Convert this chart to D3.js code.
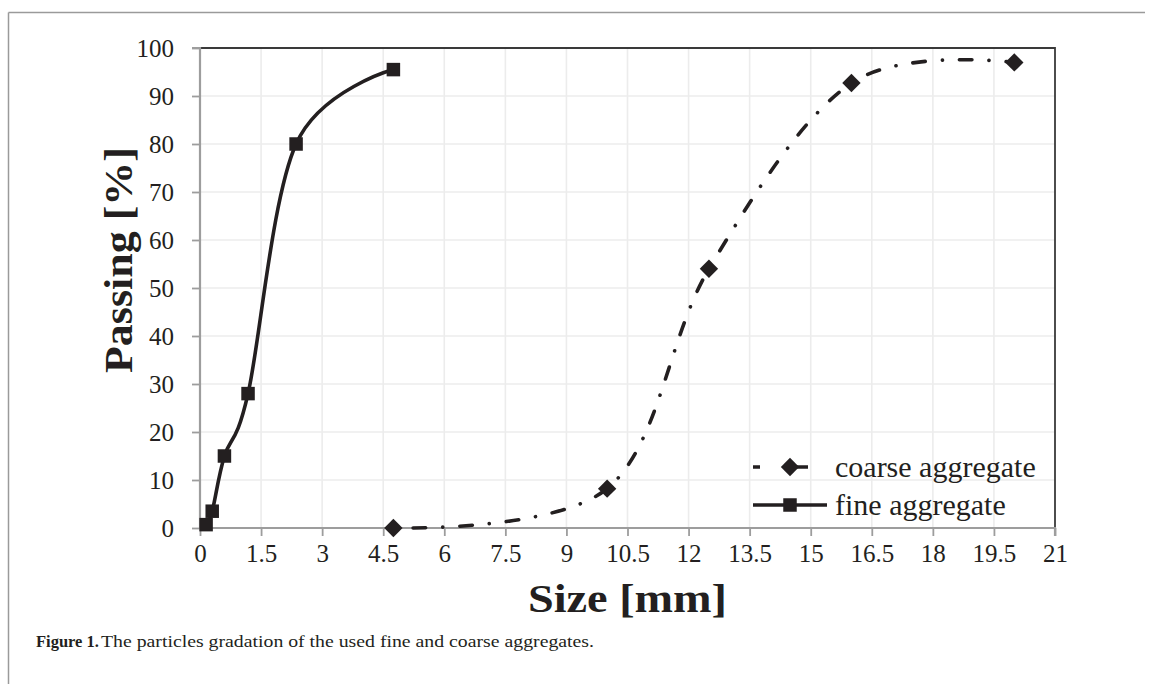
<!DOCTYPE html>
<html>
<head>
<meta charset="utf-8">
<script src="https://cdn.jsdelivr.net/npm/d3@7"></script>
<style>
  html, body { margin: 0; padding: 0; background: #fff; }
  svg { display: block; }
</style>
</head>
<body>
<svg id="chart" width="1153" height="684"></svg>
<script>
// Sieve analysis: particle size [mm] vs. cumulative passing [%]
const fineSize = [0.15, 0.3, 0.6, 1.18, 2.36, 4.75];
const finePassing = [0.7, 3.5, 15, 28, 80, 95.5];
const coarseSize = [4.75, 10, 12.5, 16, 20];
const coarsePassing = [0, 8.2, 54, 92.7, 97];
const xTicks = [0, 1.5, 3, 4.5, 6, 7.5, 9, 10.5, 12, 13.5, 15, 16.5, 18, 19.5, 21];
const yTicks = [0, 10, 20, 30, 40, 50, 60, 70, 80, 90, 100];
const seriesNames = ["coarse aggregate", "fine aggregate"];

const svg = d3.select("#chart");
const ink = "#231f20";
const serif = "'Liberation Serif', 'Times New Roman', serif";

const plot = { left: 200, right: 1055, top: 48, bottom: 528 };
const x = d3.scaleLinear().domain([0, 21]).range([plot.left, plot.right]);
const y = d3.scaleLinear().domain([0, 100]).range([plot.bottom, plot.top]);

// Figure frame (top and left rules)
svg.append("line").attr("x1", 8.5).attr("x2", 1145).attr("y1", 12.5).attr("y2", 12.5)
  .attr("stroke", "#9a9a9a").attr("stroke-width", 1.5);
svg.append("line").attr("x1", 8.5).attr("x2", 8.5).attr("y1", 12.5).attr("y2", 684)
  .attr("stroke", "#9a9a9a").attr("stroke-width", 1.5);

// Grid
const grid = svg.append("g");
grid.selectAll("line.v").data(xTicks.filter(t => t > 0 && t < 21)).join("line")
  .attr("x1", d => x(d)).attr("x2", d => x(d))
  .attr("y1", plot.top).attr("y2", plot.bottom)
  .attr("stroke", "#ececec").attr("stroke-width", 1.6);
grid.selectAll("line.h").data(yTicks.filter(t => t > 0 && t < 100)).join("line")
  .attr("x1", plot.left).attr("x2", plot.right)
  .attr("y1", d => y(d)).attr("y2", d => y(d))
  .attr("stroke", "#ececec").attr("stroke-width", 1.6);

// Top and right plot border
svg.append("path")
  .attr("d", `M${plot.left},${plot.top}H${plot.right}V${plot.bottom}`)
  .attr("fill", "none").attr("stroke", "#3a3a3a").attr("stroke-width", 1.8);

// Axes
const yAxis = d3.axisLeft(y).tickValues(yTicks).tickSize(8).tickPadding(18).tickFormat(d3.format("d"));
const xAxis = d3.axisBottom(x).tickValues(xTicks).tickSize(8).tickPadding(8).tickFormat(d => String(d));

const gy = svg.append("g").attr("transform", `translate(${plot.left},0)`).call(yAxis);
const gx = svg.append("g").attr("transform", `translate(0,${plot.bottom})`).call(xAxis);
[gx, gy].forEach(g => {
  g.select(".domain").attr("stroke", "#9d9d9d").attr("stroke-width", 2.2);
  g.selectAll(".tick line").attr("stroke", "#9d9d9d").attr("stroke-width", 1.8);
  g.selectAll(".tick text").attr("fill", ink)
    .style("font-family", serif).style("font-size", "25px");
});
gy.select(".domain").attr("d", `M-8,${plot.top}H0V${plot.bottom}`);
gx.select(".domain").attr("d", `M${plot.left},0H${plot.right}V8`);

// Axis titles
svg.append("text")
  .attr("transform", "translate(132,373) rotate(-90)")
  .attr("text-anchor", "start")
  .attr("textLength", 226).attr("lengthAdjust", "spacingAndGlyphs")
  .style("font-family", serif).style("font-size", "40px").style("font-weight", "bold")
  .attr("fill", ink).text("Passing [%]");
svg.append("text")
  .attr("x", 528).attr("y", 612)
  .attr("text-anchor", "start")
  .attr("textLength", 199).attr("lengthAdjust", "spacingAndGlyphs")
  .style("font-family", serif).style("font-size", "40px").style("font-weight", "bold")
  .attr("fill", ink).text("Size [mm]");

// Series
const curve = d3.curveCardinal.tension(0);
const line = d3.line().x(d => x(d[0])).y(d => y(d[1])).curve(curve);
const fine = d3.zip(fineSize, finePassing);
const coarse = d3.zip(coarseSize, coarsePassing);
const dashDot = "12.5,17,0.1,17";

svg.append("path").datum(coarse).attr("d", line)
  .attr("fill", "none").attr("stroke", ink).attr("stroke-width", 3.6)
  .attr("stroke-dasharray", dashDot).attr("stroke-dashoffset", -20)
  .attr("stroke-linecap", "round");
svg.append("path").datum(fine).attr("d", line)
  .attr("fill", "none").attr("stroke", ink).attr("stroke-width", 3.6);

const square = d3.symbol().type(d3.symbolSquare).size(13.5 * 13.5);
const diamond = d3.symbol().type(d3.symbolSquare).size(13 * 13);

svg.append("g").selectAll("path").data(fine).join("path")
  .attr("d", square)
  .attr("transform", d => `translate(${x(d[0])},${y(d[1])})`)
  .attr("fill", ink);
svg.append("g").selectAll("path").data(coarse).join("path")
  .attr("d", diamond)
  .attr("transform", d => `translate(${x(d[0])},${y(d[1])}) rotate(45)`)
  .attr("fill", ink);

// Legend
const legend = svg.append("g");
const lx0 = 753, lx1 = 827, lxm = 790;
const rows = [467, 505];
legend.append("line").attr("x1", lx0).attr("x2", 815).attr("y1", rows[0]).attr("y2", rows[0])
  .attr("stroke", ink).attr("stroke-width", 3.6)
  .attr("stroke-dasharray", "7,30,18").attr("stroke-linecap", "butt");
legend.append("path").attr("d", diamond)
  .attr("transform", `translate(${lxm},${rows[0]}) rotate(45)`).attr("fill", ink);
legend.append("line").attr("x1", lx0).attr("x2", lx1).attr("y1", rows[1]).attr("y2", rows[1])
  .attr("stroke", ink).attr("stroke-width", 3.6);
legend.append("path").attr("d", square)
  .attr("transform", `translate(${lxm},${rows[1]})`).attr("fill", ink);
legend.selectAll("text").data(seriesNames).join("text")
  .attr("x", 835).attr("y", (d, i) => rows[i]).attr("dy", "0.32em")
  .style("font-family", serif).style("font-size", "30px")
  .attr("fill", ink).text(d => d);

// Caption
svg.append("text").attr("x", 36).attr("y", 647)
  .style("font-family", serif).style("font-size", "16.5px").style("font-weight", "bold")
  .attr("fill", ink).text("Figure 1.");
svg.append("text").attr("x", 101).attr("y", 647)
  .attr("textLength", 493).attr("lengthAdjust", "spacingAndGlyphs")
  .style("font-family", serif).style("font-size", "17.5px")
  .attr("fill", ink).text("The particles gradation of the used fine and coarse aggregates.");
</script>
</body>
</html>
